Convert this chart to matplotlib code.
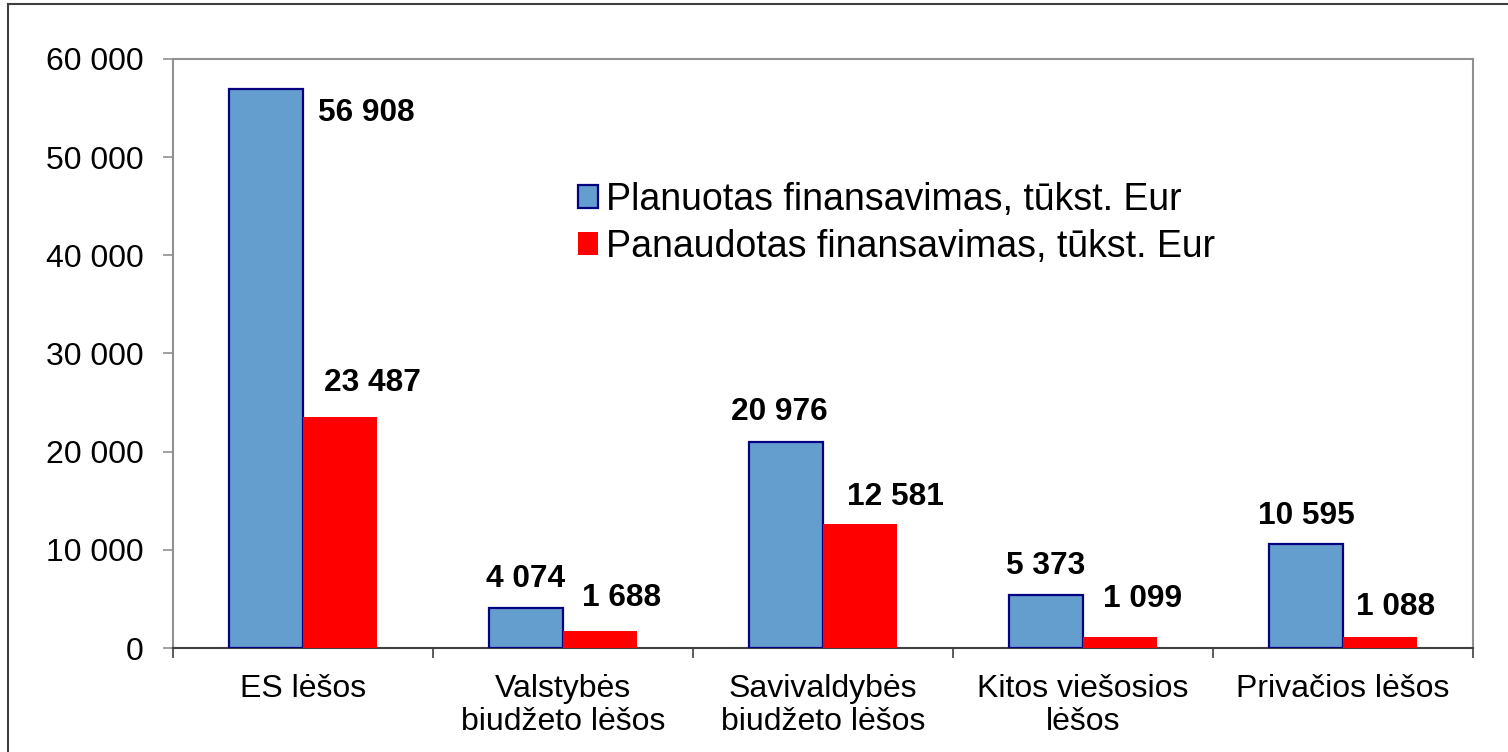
import numpy as np
import matplotlib
matplotlib.use("Agg")
import matplotlib.pyplot as plt
from matplotlib.patches import Rectangle

plt.rcParams['font.family'] = ['Liberation Sans', 'DejaVu Sans']

categories = ["ES lėšos", "Valstybės\nbiudžeto lėšos", "Savivaldybės\nbiudžeto lėšos",
              "Kitos viešosios\nlėšos", "Privačios lėšos"]
planned = [56908, 4074, 20976, 5373, 10595]
used = [23487, 1688, 12581, 1099, 1088]
series_names = ["Planuotas finansavimas, tūkst. Eur", "Panaudotas finansavimas, tūkst. Eur"]
y_ticks = [0, 10000, 20000, 30000, 40000, 50000, 60000]

# label offsets in pixels from the bar top centre (hand placed like in the source)
planned_off = [(100, -24), (0, 29), (-7, 30), (0, 29), (0, 28)]
used_off = [(32, 34), (22, 33), (35, 27), (23, 38), (16, 30)]

W, H = 1508, 752
fig = plt.figure(figsize=(W / 100, H / 100), dpi=100)
ax = fig.add_axes([173 / W, 1 - 648 / H, 1300 / W, (648 - 59) / H])

x = np.arange(len(categories))
bw = 0.285
b1 = ax.bar(x - bw / 2, planned, bw, color="#639ECF", edgecolor="#000080", linewidth=1.6,
            label=series_names[0], zorder=3)
b2 = ax.bar(x + bw / 2, used, bw, color="#FF0000", edgecolor="none",
            label=series_names[1], zorder=3)

def fmt(v):
    return f"{v:,.0f}".replace(",", " ")

for bars, vals, offs in [(b1, planned, planned_off), (b2, used, used_off)]:
    for r, v, (dx, dy) in zip(bars, vals, offs):
        ax.annotate(fmt(v), (r.get_x() + r.get_width() / 2, v), xytext=(dx, dy),
                    textcoords="offset pixels", ha="center", va="center",
                    fontsize=22.8, fontweight="bold", zorder=4)

ax.set_ylim(0, 60000)
ax.set_xlim(-0.5, len(categories) - 0.5)
ax.set_yticks(y_ticks)
ax.set_yticklabels([fmt(v) for v in y_ticks], fontsize=23)
ax.set_xticks(x)
ax.set_xticklabels(categories, fontsize=23, linespacing=1.1)
ax.set_xticks(np.arange(-0.5, len(categories)), minor=True)
ax.tick_params(axis="x", which="major", length=0, pad=19)
ax.tick_params(axis="x", which="minor", length=7, width=1.2, color="#404040")
ax.tick_params(axis="y", length=7, width=1.2, color="#909090", pad=14)

for s in ["left", "top", "right"]:
    ax.spines[s].set_color("#909090")
    ax.spines[s].set_linewidth(1.5)
ax.spines["bottom"].set_color("#404040")
ax.spines["bottom"].set_linewidth(1.5)

ax.legend(loc="upper left", bbox_to_anchor=(578 / W, 1 - 182 / H), bbox_transform=fig.transFigure,
          frameon=False, fontsize=27, handlelength=0.53, handleheight=0.56,
          handletextpad=0.22, labelspacing=0.28, borderaxespad=0, borderpad=0)

fig.add_artist(Rectangle((7.5 / W, -0.1), 1.2, 1 - 4 / H + 0.1, transform=fig.transFigure,
                         fill=False, edgecolor="#404040", linewidth=1.5))

fig.savefig("out.png", dpi=100)
